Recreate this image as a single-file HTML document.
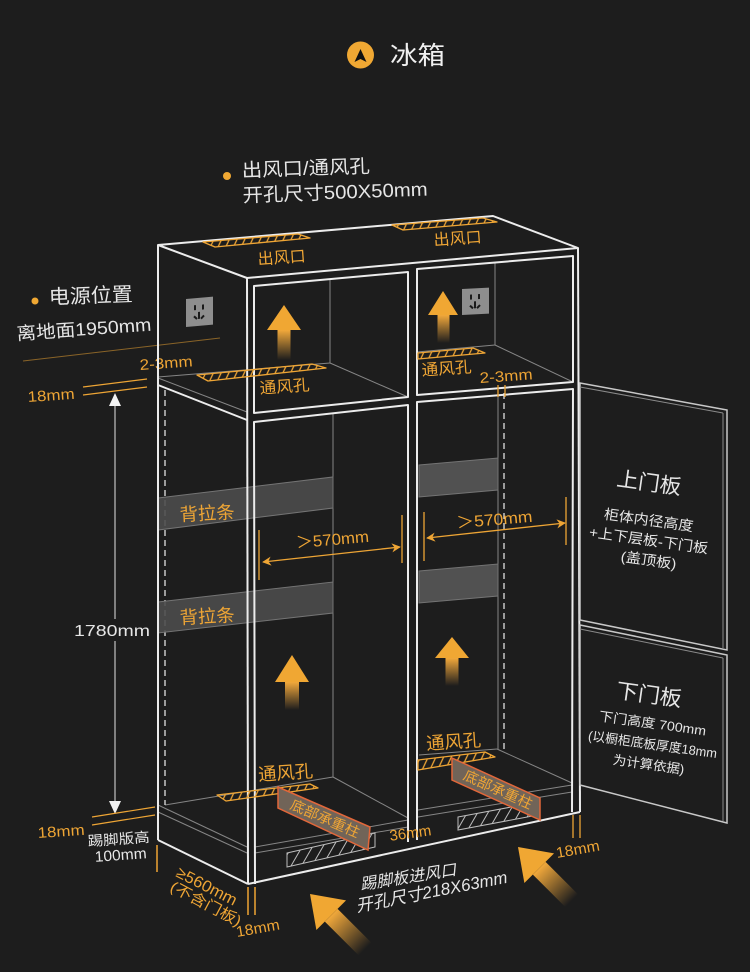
<!DOCTYPE html>
<html><head><meta charset="utf-8">
<style>
html,body{margin:0;padding:0;background:#1d1d1d;}
svg{display:block;}
text{font-family:"Liberation Sans","Noto Sans CJK SC",sans-serif;}
</style></head><body>
<svg width="750" height="972" viewBox="0 0 750 972" xmlns="http://www.w3.org/2000/svg">
<defs>
  <pattern id="ho" patternUnits="userSpaceOnUse" width="7" height="7" patternTransform="rotate(25)">
    <line x1="1" y1="0" x2="1" y2="7" stroke="#eea535" stroke-width="1.3"/>
  </pattern>
  <pattern id="hw" patternUnits="userSpaceOnUse" width="9" height="9" patternTransform="rotate(30)">
    <line x1="1" y1="0" x2="1" y2="9" stroke="#bdbdbd" stroke-width="1"/>
  </pattern>
  <linearGradient id="gu" x1="0" y1="0" x2="0" y2="1">
    <stop offset="0" stop-color="#f2a93b" stop-opacity="1"/>
    <stop offset="1" stop-color="#f2a93b" stop-opacity="0"/>
  </linearGradient>
  <marker id="ma" viewBox="0 0 10 10" refX="9" refY="5" markerWidth="9" markerHeight="9" orient="auto-start-reverse" markerUnits="userSpaceOnUse">
    <path d="M0,0 L10,5 L0,10 L3,5 Z" fill="#eea535"/>
  </marker>
</defs>
<rect width="750" height="972" fill="#1d1d1d"/>

<!-- Title -->
<circle cx="360.5" cy="55" r="13.5" fill="#f0a833"/>
<path d="M360.5,49 L366.5,62 L360.5,59 L354.5,62 Z" fill="#111"/>
<text x="390" y="64" font-size="25" fill="#f0f0f0" textLength="55" lengthAdjust="spacingAndGlyphs">冰箱</text>

<!-- top annotation -->
<circle cx="227" cy="176" r="4" fill="#f0a833"/>
<g transform="rotate(-2 242 176)">
<text x="242" y="177" font-size="19" fill="#e6e6e6" textLength="128" lengthAdjust="spacingAndGlyphs">出风口/通风孔</text>
<text x="242" y="202" font-size="19" fill="#e6e6e6" textLength="185" lengthAdjust="spacingAndGlyphs">开孔尺寸500X50mm</text>
</g>

<!-- left annotation -->
<circle cx="35" cy="301" r="3.5" fill="#f0a833"/>
<text x="49" y="304" font-size="20" fill="#e6e6e6" textLength="84" lengthAdjust="spacingAndGlyphs" transform="rotate(-2 49 304)">电源位置</text>
<text x="17" y="340" font-size="18" fill="#e6e6e6" textLength="135" lengthAdjust="spacingAndGlyphs" transform="rotate(-4 17 340)">离地面1950mm</text>
<line x1="23" y1="361" x2="220" y2="338" stroke="#8a6428" stroke-width="1"/>
<text x="140" y="370" font-size="15" fill="#eea535" textLength="53" lengthAdjust="spacingAndGlyphs" transform="rotate(-4 140 370)">2-3mm</text>
<text x="28" y="402" font-size="15" fill="#eea535" textLength="47" lengthAdjust="spacingAndGlyphs" transform="rotate(-4 28 402)">18mm</text>
<line x1="83" y1="387" x2="147" y2="379" stroke="#eea535" stroke-width="1.2"/>
<line x1="83" y1="395" x2="147" y2="387" stroke="#eea535" stroke-width="1.2"/>
<line x1="158" y1="372" x2="158" y2="388" stroke="#eea535" stroke-width="1.5"/>

<!-- 1780 dimension -->
<line x1="115" y1="400" x2="115" y2="808" stroke="#b5b5b5" stroke-width="1.3"/>
<path d="M115,393 L109,406 L121,406 Z" fill="#f2f2f2"/>
<path d="M115,814 L109,801 L121,801 Z" fill="#f2f2f2"/>
<rect x="72" y="619" width="82" height="22" fill="#1d1d1d"/>
<text x="112" y="636" font-size="16" fill="#e6e6e6" text-anchor="middle" textLength="76" lengthAdjust="spacingAndGlyphs">1780mm</text>

<!-- bottom-left annotation -->
<line x1="92" y1="817" x2="155" y2="807" stroke="#eea535" stroke-width="1.2"/>
<line x1="92" y1="825" x2="155" y2="815" stroke="#eea535" stroke-width="1.2"/>
<text x="38" y="838" font-size="15" fill="#eea535" textLength="47" lengthAdjust="spacingAndGlyphs" transform="rotate(-4 38 838)">18mm</text>
<text x="119" y="844" font-size="14" fill="#e6e6e6" text-anchor="middle" textLength="62" lengthAdjust="spacingAndGlyphs" transform="rotate(-4 119 844)">踢脚版高</text>
<text x="121" y="860" font-size="15" fill="#e6e6e6" text-anchor="middle" textLength="52" lengthAdjust="spacingAndGlyphs" transform="rotate(-4 121 860)">100mm</text>
<line x1="157" y1="845" x2="157" y2="872" stroke="#eea535" stroke-width="1.5"/>
<text x="175" y="876" font-size="16" fill="#eea535" textLength="66" lengthAdjust="spacingAndGlyphs" transform="rotate(27 175 876)">≥560mm</text>
<text x="169" y="890" font-size="15" fill="#eea535" textLength="78" lengthAdjust="spacingAndGlyphs" transform="rotate(28 169 890)">(不含门板)</text>
<line x1="248" y1="887" x2="248" y2="915" stroke="#eea535" stroke-width="1.5"/>
<line x1="255" y1="887" x2="255" y2="915" stroke="#eea535" stroke-width="1.5"/>
<text x="237" y="937" font-size="15" fill="#eea535" textLength="44" lengthAdjust="spacingAndGlyphs" transform="rotate(-10 237 937)">18mm</text>

<!-- gray interior lines -->
<g stroke="#858585" stroke-width="1" fill="none">
  <line x1="330" y1="279" x2="330" y2="363"/>
  <line x1="158" y1="377" x2="330" y2="363"/>
  <line x1="330" y1="363" x2="408" y2="397"/>
  <line x1="495" y1="263" x2="495" y2="345"/>
  <line x1="417" y1="352" x2="495" y2="345"/>
  <line x1="495" y1="345" x2="573" y2="382"/>
  <line x1="158" y1="378" x2="247" y2="412"/>
  <line x1="333" y1="413" x2="333" y2="777"/>
  <line x1="165" y1="805" x2="333" y2="777"/>
  <line x1="333" y1="777" x2="408" y2="818"/>
  <line x1="255" y1="847" x2="408" y2="820"/>
  <line x1="255" y1="853" x2="408" y2="827"/>
  <line x1="158" y1="805" x2="247" y2="847"/>
  <line x1="158" y1="812" x2="247" y2="853"/>
  <line x1="498" y1="396" x2="498" y2="749"/>
  <line x1="419" y1="755" x2="497" y2="749"/>
  <line x1="497" y1="749" x2="572" y2="783"/>
  <line x1="418" y1="810" x2="572" y2="785"/>
  <line x1="418" y1="817" x2="572" y2="792"/>
</g>
<g stroke="#e0e0e0" stroke-width="1.3" stroke-dasharray="6,4" fill="none">
  <line x1="165" y1="390" x2="165" y2="805"/>
  <line x1="504" y1="393" x2="504" y2="750"/>
</g>

<!-- back strips -->
<g fill="#4d4d4d" fill-opacity="0.9" stroke="#747474" stroke-width="1">
  <polygon points="158,498 333,477 333,508 158,530"/>
  <polygon points="158,602 333,582 333,613 158,633"/>
  <polygon points="419,465 498,458 498,490 419,497" fill="#585858"/>
  <polygon points="419,571 498,564 498,596 419,603" fill="#585858"/>
</g>
<text x="180" y="521" font-size="18" fill="#eea535" textLength="55" lengthAdjust="spacingAndGlyphs" transform="rotate(-3 180 521)">背拉条</text>
<text x="180" y="624" font-size="18" fill="#eea535" textLength="55" lengthAdjust="spacingAndGlyphs" transform="rotate(-3 180 624)">背拉条</text>

<!-- white main frame -->
<g stroke="#ececec" stroke-width="2" fill="none" stroke-linejoin="round">
  <polygon points="158,245 493,216 578,248 247,278"/>
  <line x1="158" y1="245" x2="158" y2="840"/>
  <line x1="158" y1="840" x2="248" y2="884"/>
  <line x1="247" y1="278" x2="248" y2="884"/>
  <line x1="248" y1="884" x2="580" y2="812"/>
  <line x1="578" y1="248" x2="580" y2="812"/>
  <line x1="158" y1="385" x2="247" y2="420"/>
  <polygon points="254,286 408,272 408,397 254,413"/>
  <polygon points="417,269 573,256 573,382 417,395"/>
  <polyline points="255,884 254,422 408,405 408,842"/>
  <polyline points="417,840 417,402 573,389 572,812"/>
</g>

<!-- sockets -->
<g transform="translate(186,299) skewY(-5)">
  <rect width="27" height="28" fill="#8e8e8e"/>
  <g stroke="#1a1a1a" stroke-width="2">
    <line x1="9" y1="7" x2="9" y2="12"/><line x1="17" y1="7" x2="17" y2="12"/>
    <line x1="13" y1="14" x2="13" y2="21"/><line x1="8" y1="18" x2="11" y2="21"/><line x1="18" y1="18" x2="15" y2="21"/>
  </g>
</g>
<g transform="translate(462,289) skewY(-3)">
  <rect width="27" height="26" fill="#8e8e8e"/>
  <g stroke="#1a1a1a" stroke-width="2">
    <line x1="9" y1="6" x2="9" y2="11"/><line x1="17" y1="6" x2="17" y2="11"/>
    <line x1="13" y1="13" x2="13" y2="20"/><line x1="8" y1="17" x2="11" y2="20"/><line x1="18" y1="17" x2="15" y2="20"/>
  </g>
</g>

<!-- vents (orange hatched) -->
<g fill="url(#ho)" stroke="#eea535" stroke-width="1.3" stroke-linejoin="round">
  <polygon points="203,242 298,234 310,238 215,247"/>
  <polygon points="392,225 483,218 497,222 403,230"/>
  <polygon points="197,375 312,364 326,368 208,381"/>
  <polygon points="418,353 473,348 485,353 418,359"/>
  <polygon points="217,795 310,784 318,788 226,801"/>
  <polygon points="418,760 485,752 495,757 418,770"/>
</g>
<g font-size="16" fill="#eea535" text-anchor="middle">
  <text x="282" y="263" transform="rotate(-4 282 263)" textLength="48" lengthAdjust="spacingAndGlyphs">出风口</text>
  <text x="458" y="244" transform="rotate(-4 458 244)" textLength="48" lengthAdjust="spacingAndGlyphs">出风口</text>
  <text x="285" y="392" transform="rotate(-4 285 392)" textLength="50" lengthAdjust="spacingAndGlyphs">通风孔</text>
  <text x="447" y="374" transform="rotate(-4 447 374)" textLength="50" lengthAdjust="spacingAndGlyphs">通风孔</text>
  <text x="286" y="779" font-size="18" transform="rotate(-4 286 779)" textLength="55" lengthAdjust="spacingAndGlyphs">通风孔</text>
  <text x="454" y="748" font-size="18" transform="rotate(-4 454 748)" textLength="55" lengthAdjust="spacingAndGlyphs">通风孔</text>
</g>

<!-- top 2-3mm right -->
<text x="480" y="383" font-size="15" fill="#eea535" textLength="53" lengthAdjust="spacingAndGlyphs" transform="rotate(-4 480 383)">2-3mm</text>
<line x1="498" y1="385" x2="498" y2="397" stroke="#eea535" stroke-width="1.3"/>
<line x1="505" y1="385" x2="505" y2="397" stroke="#eea535" stroke-width="1.3"/>

<!-- up arrows -->
<g fill="#f0a733">
  <path d="M284,305 L301,330 L267,330 Z"/><rect x="277.5" y="330" width="13" height="30" fill="url(#gu)"/>
  <path d="M443,291 L458,315 L428,315 Z"/><rect x="437.5" y="315" width="12" height="28" fill="url(#gu)"/>
  <path d="M292,655 L309,682 L275,682 Z"/><rect x="285" y="682" width="14" height="28" fill="url(#gu)"/>
  <path d="M452,637 L469,658 L435,658 Z"/><rect x="445.5" y="658" width="13" height="28" fill="url(#gu)"/>
</g>

<!-- >570 dimensions -->
<g stroke="#eea535" stroke-width="1.3">
  <line x1="259" y1="530" x2="259" y2="580"/>
  <line x1="402" y1="515" x2="402" y2="563"/>
  <line x1="263" y1="562" x2="400" y2="547" marker-start="url(#ma)" marker-end="url(#ma)"/>
  <line x1="424" y1="512" x2="424" y2="561"/>
  <line x1="566" y1="497" x2="566" y2="545"/>
  <line x1="427" y1="538" x2="565" y2="523" marker-start="url(#ma)" marker-end="url(#ma)"/>
</g>
<text x="333" y="545" font-size="16" fill="#eea535" text-anchor="middle" textLength="73" lengthAdjust="spacingAndGlyphs" transform="rotate(-5 333 545)">＞570mm</text>
<text x="495" y="525" font-size="16" fill="#eea535" text-anchor="middle" textLength="76" lengthAdjust="spacingAndGlyphs" transform="rotate(-5 495 525)">＞570mm</text>

<!-- plinth vents -->
<g fill="url(#hw)" stroke="#bdbdbd" stroke-width="1">
  <polygon points="287,853 375,833 375,847 287,867"/>
  <polygon points="458,817 538,802 538,815 458,830"/>
</g>

<!-- support columns -->
<g fill="#716458" stroke="#e2673a" stroke-width="1.5">
  <polygon points="278,787 370,827 368,850 278,808"/>
  <polygon points="452,758 540,798 540,820 452,780"/>
</g>
<text x="323" y="823" font-size="14" fill="#eea535" text-anchor="middle" textLength="74" lengthAdjust="spacingAndGlyphs" transform="rotate(23.5 323 823)">底部承重柱</text>
<text x="496" y="794" font-size="14" fill="#eea535" text-anchor="middle" textLength="74" lengthAdjust="spacingAndGlyphs" transform="rotate(24.4 496 794)">底部承重柱</text>

<!-- bottom texts -->
<text x="411" y="838" font-size="15" fill="#eea535" text-anchor="middle" textLength="42" lengthAdjust="spacingAndGlyphs" transform="rotate(-8 411 838)">36mm</text>
<line x1="573" y1="815" x2="573" y2="838" stroke="#eea535" stroke-width="1.3"/>
<line x1="580" y1="815" x2="580" y2="838" stroke="#eea535" stroke-width="1.3"/>
<text x="557" y="858" font-size="15" fill="#eea535" textLength="44" lengthAdjust="spacingAndGlyphs" transform="rotate(-10 557 858)">18mm</text>
<g font-style="italic" fill="#e6e6e6">
  <text x="361" y="890" font-size="16" textLength="97" lengthAdjust="spacingAndGlyphs" transform="rotate(-9 361 890)">踢脚板进风口</text>
  <text x="357" y="912" font-size="17" textLength="154" lengthAdjust="spacingAndGlyphs" transform="rotate(-11 357 912)">开孔尺寸218X63mm</text>
</g>

<!-- big diagonal arrows -->
<g transform="translate(310,894) rotate(-45)">
  <path d="M0,0 L21,30 L-21,30 Z" fill="#f0a733"/>
  <rect x="-9" y="30" width="18" height="48" fill="url(#gu)"/>
</g>
<g transform="translate(518,847) rotate(-45)">
  <path d="M0,0 L21,30 L-21,30 Z" fill="#f0a733"/>
  <rect x="-9" y="30" width="18" height="46" fill="url(#gu)"/>
</g>

<!-- doors -->
<g fill="#1d1d1d" stroke="#c8c8c8" stroke-width="1.5">
  <polygon points="580,383 727,410 727,650 580,620"/>
  <polygon points="580,625 727,655 727,823 580,785"/>
</g>
<g stroke="#8a8a8a" stroke-width="1" fill="none">
  <line x1="580" y1="387" x2="723" y2="413"/>
  <line x1="723" y1="413" x2="723" y2="648"/>
  <line x1="580" y1="629" x2="723" y2="658"/>
  <line x1="723" y1="658" x2="723" y2="821"/>
</g>
<g fill="#e6e6e6" text-anchor="middle">
  <text x="648" y="490" font-size="21" transform="rotate(8 648 490)" textLength="65" lengthAdjust="spacingAndGlyphs">上门板</text>
  <text x="648" y="525" font-size="14" transform="rotate(8 648 525)" textLength="90" lengthAdjust="spacingAndGlyphs">柜体内径高度</text>
  <text x="648" y="545" font-size="14" transform="rotate(8 648 545)" textLength="120" lengthAdjust="spacingAndGlyphs">+上下层板-下门板</text>
  <text x="648" y="565" font-size="14" transform="rotate(8 648 565)" textLength="56" lengthAdjust="spacingAndGlyphs">(盖顶板)</text>
  <text x="648" y="702" font-size="21" transform="rotate(8 648 702)" textLength="66" lengthAdjust="spacingAndGlyphs">下门板</text>
  <text x="652" y="728" font-size="13" transform="rotate(8 652 728)" textLength="108" lengthAdjust="spacingAndGlyphs">下门高度 700mm</text>
  <text x="652" y="749" font-size="13" transform="rotate(8 652 749)" textLength="130" lengthAdjust="spacingAndGlyphs">(以橱柜底板厚度18mm</text>
  <text x="648" y="769" font-size="13" transform="rotate(8 648 769)" textLength="72" lengthAdjust="spacingAndGlyphs">为计算依据)</text>
</g>
</svg>
</body></html>
